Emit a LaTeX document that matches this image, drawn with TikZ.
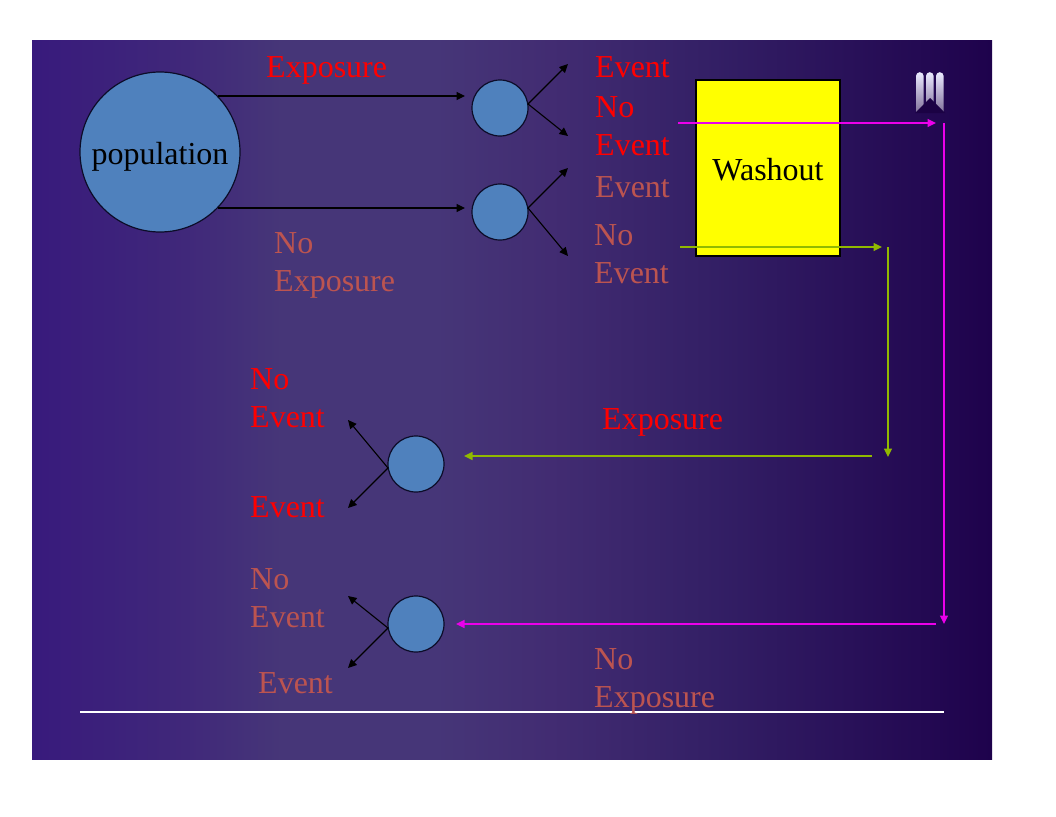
\documentclass[tikz,border=0pt]{standalone}
\usepackage{fontspec}
\setmainfont{Liberation Serif}
\usetikzlibrary{arrows.meta}
\definecolor{cA}{RGB}{56,26,124}
\definecolor{cB}{RGB}{64,40,122}
\definecolor{cC}{RGB}{70,54,120}
\definecolor{cD}{RGB}{66,44,114}
\definecolor{cE}{RGB}{52,32,102}
\definecolor{cF}{RGB}{30,2,76}
\pgfdeclarehorizontalshading{slidebg}{100bp}{color(0bp)=(cA);color(25bp)=(cA);color(33bp)=(cB);color(38bp)=(cC);color(46bp)=(cC);color(52bp)=(cD);color(60bp)=(cE);color(75bp)=(cF);color(100bp)=(cF)}
\definecolor{muted}{RGB}{188,84,80}
\definecolor{ball}{RGB}{79,129,189}
\definecolor{grn}{RGB}{145,185,0}
\definecolor{mag}{RGB}{235,0,235}
\definecolor{yel}{RGB}{255,255,0}
\definecolor{edge}{RGB}{12,12,40}
\tikzset{
  x=1pt,y=-1pt,
  ball/.style={circle,draw=edge,fill=ball,line width=1.2pt,minimum size=#1,inner sep=0pt},
  lbl/.style={anchor=base west,inner sep=0pt,font=\fontsize{32}{38}\selectfont,align=left},
  redt/.style={lbl,text=red},
  mut/.style={lbl,text=muted},
  blk/.style={-{Triangle[length=8.5pt,width=8pt]},black,line width=1.1pt},
  grnl/.style={-{Triangle[length=8.5pt,width=8pt]},grn,line width=1.4pt},
  magl/.style={-{Triangle[length=8.5pt,width=8pt]},mag,line width=1.4pt},
}
\begin{document}
\begin{tikzpicture}
\useasboundingbox (0,0) rectangle (1056,816);
\fill[white] (0,0) rectangle (1056,816);
\shade[shading=slidebg] (32,40.5) rectangle (992,759.5);
% logo
\foreach \px in {916,926,936}{
  \shade[top color=white!92!blue,bottom color=cF!55!white]
    (\px,112) -- (\px,76) arc[start angle=180,end angle=360,radius=3.8] -- (\px+7.6,112) -- cycle;
}
\fill[cF!90!black] (915,113) -- (930,98) -- (945,113) -- cycle;
% nodes
\node[ball=160pt] (pop) at (160,152) {};
\node[anchor=base,inner sep=0pt,font=\fontsize{32}{38}\selectfont,text=black] (poptext) at (160,164) {population};
\node[ball=56pt] (b1) at (500,108) {};
\node[ball=56pt] (b2) at (500,212) {};
\node[ball=56pt] (b3) at (416,464) {};
\node[ball=56pt] (b4) at (416,624) {};
\node[draw=black,fill=yel,line width=1.2pt,minimum width=144pt,minimum height=176pt,inner sep=0pt] (wash) at (768,168) {};
\node[anchor=base,inner sep=0pt,font=\fontsize{32}{38}\selectfont,text=black] (washtext) at (768,180) {Washout};
% free ends
\coordinate (p1) at (218,96); \coordinate (q1) at (465,96);
\coordinate (p2) at (218,208); \coordinate (q2) at (465,208);
\coordinate (e1) at (568,64); \coordinate (e2) at (568,136);
\coordinate (e3) at (568,168); \coordinate (e4) at (568,256);
\coordinate (e5) at (348,420); \coordinate (e6) at (348,508);
\coordinate (e7) at (348,596); \coordinate (e8) at (348,668);
\coordinate (m1) at (678,123); \coordinate (m2) at (936,123);
\coordinate (m3) at (944,123); \coordinate (m4) at (944,624);
\coordinate (m5) at (936,624); \coordinate (m6) at (456,624);
\coordinate (g1) at (680,247); \coordinate (g2) at (882,247);
\coordinate (g3) at (888,247); \coordinate (g4) at (888,457);
\coordinate (g5) at (872,456); \coordinate (g6) at (464,456);
\coordinate (w1) at (80,712); \coordinate (w2) at (944,712);
\coordinate (r1) at (528,104); \coordinate (r2) at (528,208);
\coordinate (r3) at (388,468); \coordinate (r4) at (388,628);
% connectors
\draw[blk] (p1) -- (q1);
\draw[blk] (p2) -- (q2);
\draw[blk] (r1) -- (e1);
\draw[blk] (r1) -- (e2);
\draw[blk] (r2) -- (e3);
\draw[blk] (r2) -- (e4);
\draw[blk] (r3) -- (e5);
\draw[blk] (r3) -- (e6);
\draw[blk] (r4) -- (e7);
\draw[blk] (r4) -- (e8);
\draw[magl] (m1) -- (m2);
\draw[magl] (m3) -- (m4);
\draw[magl] (m5) -- (m6);
\draw[grnl] (g1) -- (g2);
\draw[grnl] (g3) -- (g4);
\draw[grnl] (g5) -- (g6);
\draw[white,line width=1.2pt] (w1) -- (w2);
% labels (the anchor is the baseline of the last line)
\node[redt] (t1) at (266,77) {Exposure};
\node[mut] (t2) at (274,291) {No\\Exposure};
\node[redt] (t3) at (595,77) {Event};
\node[redt] (t4) at (595,155) {No\\Event};
\node[mut] (t5) at (595,197) {Event};
\node[mut] (t6) at (594,283) {No\\Event};
\node[redt] (t7) at (250,427) {No\\Event};
\node[redt] (t8) at (602,429) {Exposure};
\node[redt] (t9) at (250,517) {Event};
\node[mut] (t10) at (250,627) {No\\Event};
\node[mut] (t11) at (258,693) {Event};
\node[mut] (t12) at (594,707) {No\\Exposure};
\end{tikzpicture}
\end{document}
